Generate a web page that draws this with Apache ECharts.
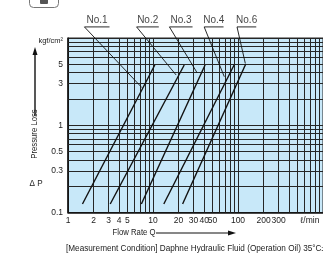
<!DOCTYPE html>
<html>
<head>
<meta charset="utf-8">
<script src="https://cdn.jsdelivr.net/npm/echarts@6/dist/echarts.min.js"></script>
<style>
  html, body { margin: 0; padding: 0; background: #fff; }
  #chart { width: 323px; height: 254px; }
</style>
</head>
<body>
<div id="chart"></div>
<script>
"use strict";

// flow rate (l/min) vs pressure loss (kgf/cm2), both log scales
var lineNames = ["No.1", "No.2", "No.3", "No.4", "No.6"];
var lineNo1 = [[1.48, 0.125], [10.5, 4.9]];
var lineNo2 = [[3.14, 0.125], [23.3, 4.9]];
var lineNo3 = [[7.3, 0.125], [41, 4.9]];
var lineNo4 = [[13.4, 0.125], [90, 4.9]];
var lineNo6 = [[22.3, 0.125], [123, 5.0]];

// leader lines: [label right end, label left end, point on the curve]
var leaderNo1 = [[3.08, 13.4], [1.56, 13.4], [7.4, 2.7]];
var leaderNo2 = [[11.7, 13.4], [6.41, 13.4], [18.7, 3.77]];
var leaderNo3 = [[29.2, 13.4], [15.6, 13.4], [33, 4.0]];
var leaderNo4 = [[67.6, 13.4], [40.0, 13.4], [69, 3.6]];
var leaderNo6 = [[164, 13.4], [97.4, 13.4], [122, 5.1]];

var xGridValues = [2, 3, 4, 5, 6, 7, 8, 9, 20, 30, 40, 50, 60, 70, 80, 90, 200, 300, 400, 500, 600, 700, 800, 900];
var xTickLabels = [2, 3, 4, 5, 20, 30, 40, 50, 200, 300];
var yGridValues = [0.2, 0.3, 0.4, 0.5, 0.6, 0.7, 0.8, 0.9, 2, 3, 4, 5, 6, 7, 8, 9];
var yTickLabels = [0.3, 0.5, 3, 5];

var FONT = "'Liberation Sans', Arial, sans-serif";
var GRIDC = "#262626";
var TICKSIZE = 8.5;

var chart = echarts.init(document.getElementById("chart"), null, { renderer: "canvas" });

var lines = [lineNo1, lineNo2, lineNo3, lineNo4, lineNo6];
var leaders = [leaderNo1, leaderNo2, leaderNo3, leaderNo4, leaderNo6];

var series = [];

// minor grid lines + minor tick labels
var gridMarks = [];
xGridValues.forEach(function (v) {
    var lab = xTickLabels.indexOf(v) >= 0;
    gridMarks.push({
        xAxis: v,
        label: {
            show: lab, position: "start", distance: 4,
            formatter: String(v), fontFamily: FONT, fontSize: TICKSIZE, color: "#222"
        }
    });
});
yGridValues.forEach(function (v) {
    var lab = yTickLabels.indexOf(v) >= 0;
    gridMarks.push({
        yAxis: v,
        label: {
            show: lab, position: "start", distance: 5,
            formatter: String(v), fontFamily: FONT, fontSize: TICKSIZE, color: "#222"
        }
    });
});
series.push({
    type: "line",
    data: [],
    z: 1,
    silent: true,
    markLine: {
        silent: true,
        symbol: ["none", "none"],
        animation: false,
        lineStyle: { color: GRIDC, width: 1, type: "solid" },
        data: gridMarks
    }
});

lines.forEach(function (d, i) {
    series.push({
        name: lineNames[i],
        type: "line",
        data: d,
        z: 5,
        symbol: "none",
        clip: false,
        lineStyle: { color: "#111", width: 1.4 }
    });
});

leaders.forEach(function (d, i) {
    series.push({
        type: "line",
        data: d,
        z: 6,
        symbol: "none",
        clip: false,
        silent: true,
        lineStyle: { color: "#111", width: 0.9 }
    });
    // label centred over the underline
    series.push({
        type: "scatter",
        data: [[Math.sqrt(d[0][0] * d[1][0]), d[0][1]]],
        symbolSize: 0,
        clip: false,
        silent: true,
        label: {
            show: true, position: "top", distance: 2,
            formatter: lineNames[i], fontFamily: FONT, fontSize: 10, color: "#111"
        }
    });
});

chart.setOption({
    animation: false,
    backgroundColor: "#fff",
    grid: {
        left: 68, top: 38, width: 264, height: 174.5,
        show: true, backgroundColor: "#c8e8f9", borderColor: GRIDC, borderWidth: 1
    },
    xAxis: {
        type: "log", logBase: 10, min: 1, max: 1000,
        axisLine: { show: true, lineStyle: { color: "#111", width: 1.5 } },
        axisTick: { show: false },
        splitLine: { show: true, lineStyle: { color: GRIDC, width: 1 } },
        axisLabel: {
            margin: 4, fontFamily: FONT, fontSize: TICKSIZE, color: "#222",
            formatter: function (v) {
                if (v >= 1000) return "{u|ℓ/min}";
                return String(v);
            },
            rich: { u: { fontFamily: FONT, fontSize: TICKSIZE, color: "#222", padding: [0, 26, 0, 0] } }
        }
    },
    yAxis: {
        type: "log", logBase: 10, min: 0.1, max: 10,
        axisLine: { show: true, lineStyle: { color: "#111", width: 1.5 } },
        axisTick: { show: false },
        splitLine: { show: true, lineStyle: { color: GRIDC, width: 1 } },
        axisLabel: {
            margin: 5, fontFamily: FONT, fontSize: TICKSIZE, color: "#222",
            formatter: function (v) {
                if (v >= 10) return "{k|kgf/cm²}";
                return String(v);
            },
            rich: { k: { fontFamily: FONT, fontSize: 7.5, color: "#222", padding: [6, 0, 0, 0] } }
        }
    },
    graphic: [
        // small icon at top left (cut off)
        { type: "rect", left: 29, top: -6, shape: { width: 29, height: 13, r: 4 },
          style: { fill: "#fff", stroke: "#777", lineWidth: 1 } },
        { type: "rect", left: 40, top: -2, shape: { width: 8, height: 6, r: 1 },
          style: { fill: "#555" } },
        // y axis title with arrow
        { type: "line", shape: { x1: 35, y1: 116, x2: 35, y2: 52 },
          style: { stroke: "#111", lineWidth: 1.4 } },
        { type: "polygon", shape: { points: [[35, 47], [32.5, 55], [37.5, 55]] },
          style: { fill: "#111" } },
        { type: "text", x: 35, y: 134, rotation: Math.PI / 2, scaleX: 0.86,
          style: { text: "Pressure Loss", font: "9px " + FONT, fill: "#222",
                   align: "center", verticalAlign: "middle" } },
        { type: "text", x: 36, y: 184, scaleX: 0.9,
          style: { text: "Δ P", font: "9px " + FONT, fill: "#222",
                   align: "center", verticalAlign: "middle" } },
        // x axis title with arrow
        { type: "text", x: 134, y: 233, scaleX: 0.86,
          style: { text: "Flow Rate Q", font: "9px " + FONT, fill: "#222",
                   align: "center", verticalAlign: "middle" } },
        { type: "line", shape: { x1: 156, y1: 233, x2: 230, y2: 233 },
          style: { stroke: "#111", lineWidth: 1.2 } },
        { type: "polygon", shape: { points: [[236, 233], [228, 230.5], [228, 235.5]] },
          style: { fill: "#111" } },
        // measurement condition note
        { type: "text", x: 66, y: 249, scaleX: 0.91,
          style: { text: "[Measurement Condition] Daphne Hydraulic Fluid (Operation Oil) 35°C±5°C",
                   font: "9px " + FONT, fill: "#222", verticalAlign: "middle" } }
    ],
    series: series
});
</script>
</body>
</html>
